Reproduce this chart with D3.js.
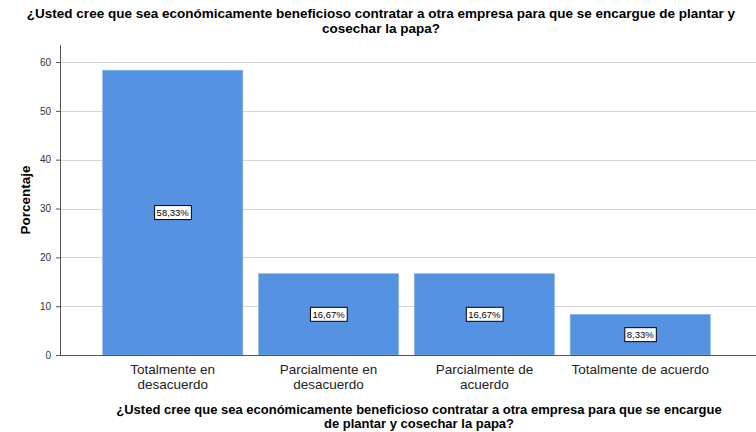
<!DOCTYPE html>
<html>
<head>
<meta charset="utf-8">
<script src="https://cdn.jsdelivr.net/npm/d3@7"></script>
<style>
body{margin:0;background:#fff;}
text{font-family:Arial,"Liberation Sans",sans-serif;}
</style>
</head>
<body>
<div id="viz"></div>
<script>
var categories = [['Totalmente en','desacuerdo'],['Parcialmente en','desacuerdo'],['Parcialmente de','acuerdo'],['Totalmente de acuerdo']];
var values = [58.33, 16.67, 16.67, 8.33];
var yTicks = [0,10,20,30,40,50,60];
var titleLines = ['¿Usted cree que sea económicamente beneficioso contratar a otra empresa para que se encargue de plantar y','cosechar la papa?'];
var xTitleLines = ['¿Usted cree que sea económicamente beneficioso contratar a otra empresa para que se encargue','de plantar y cosechar la papa?'];

var W = 756, H = 432;
var plotL = 60, plotR = 756, plotT = 45, plotB = 355;

var svg = d3.select('#viz').append('svg')
    .attr('width',W)
    .attr('height',H);

var x = d3.scaleBand()
    .domain(d3.range(values.length))
    .range([87,726])
    .padding(0.1);
var y = d3.scaleLinear()
    .domain([0,60])
    .range([plotB,62]);

// gridlines
svg.selectAll('.grid').data(yTicks.slice(1)).enter().append('line')
    .attr('x1',plotL).attr('x2',plotR)
    .attr('y1',function(d){return Math.round(y(d))+0.5;})
    .attr('y2',function(d){return Math.round(y(d))+0.5;})
    .style('stroke','#d4d4d4').style('stroke-width',1);

// bars
svg.selectAll('.bar').data(values).enter().append('rect')
    .attr('x',function(d,i){return x(i);})
    .attr('width',x.bandwidth())
    .attr('y',function(d){return y(d);})
    .attr('height',function(d){return plotB-y(d);})
    .style('fill','#5592e1')
    .style('stroke','#8fb6ea').style('stroke-width',0.5);

// y axis
var yAxis = d3.axisLeft(y).tickValues(yTicks).tickSize(4).tickPadding(5);
var ga = svg.append('g').attr('transform','translate('+plotL+',0)').call(yAxis);
ga.select('.domain').remove();
ga.selectAll('line').style('stroke','#555');
ga.selectAll('text').style('font-size','10px').style('fill','#333').style('font-family','Arial,"Liberation Sans",sans-serif');
svg.append('line').attr('x1',plotL+0.5).attr('x2',plotL+0.5).attr('y1',plotT).attr('y2',plotB)
    .style('stroke','#555');
svg.append('line').attr('x1',plotL).attr('x2',plotR).attr('y1',plotB+0.5).attr('y2',plotB+0.5)
    .style('stroke','#555');

// value labels
values.forEach(function(d,i){
    var cx = x(i)+x.bandwidth()/2;
    var cy = (y(d)+plotB)/2;
    var g = svg.append('g');
    var t = g.append('text').attr('x',cx).attr('y',cy+3.5)
        .attr('text-anchor','middle')
        .style('font-size','9.5px').style('fill','#000')
        .text(d.toFixed(2).replace('.',',')+'%');
    var bb = t.node().getBBox();
    g.insert('rect','text')
        .attr('x',bb.x-2).attr('y',cy-7)
        .attr('width',bb.width+4).attr('height',14)
        .style('fill','#fff').style('stroke','#000').style('stroke-width',1);
});

// x category labels
categories.forEach(function(lines,i){
    var t = svg.append('text')
        .attr('x',x(i)+x.bandwidth()/2)
        .attr('y',374)
        .attr('text-anchor','middle')
        .style('font-size','13.5px').style('fill','#222');
    lines.forEach(function(l,j){
        t.append('tspan').attr('x',x(i)+x.bandwidth()/2).attr('dy',j?15:0).text(l);
    });
});

// titles
titleLines.forEach(function(l,j){
    svg.append('text').attr('x',381).attr('y',18+j*15)
        .attr('text-anchor','middle')
        .style('font-size','13.5px').style('font-weight','bold')
        .text(l);
});
xTitleLines.forEach(function(l,j){
    svg.append('text').attr('x',419).attr('y',414+j*14)
        .attr('text-anchor','middle')
        .style('font-size','13px').style('font-weight','bold')
        .text(l);
});
svg.append('text')
    .attr('transform','translate(30,'+((plotT+plotB)/2)+') rotate(-90)')
    .attr('text-anchor','middle')
    .style('font-size','13.5px').style('font-weight','bold')
    .text('Porcentaje');
</script>
</body>
</html>
